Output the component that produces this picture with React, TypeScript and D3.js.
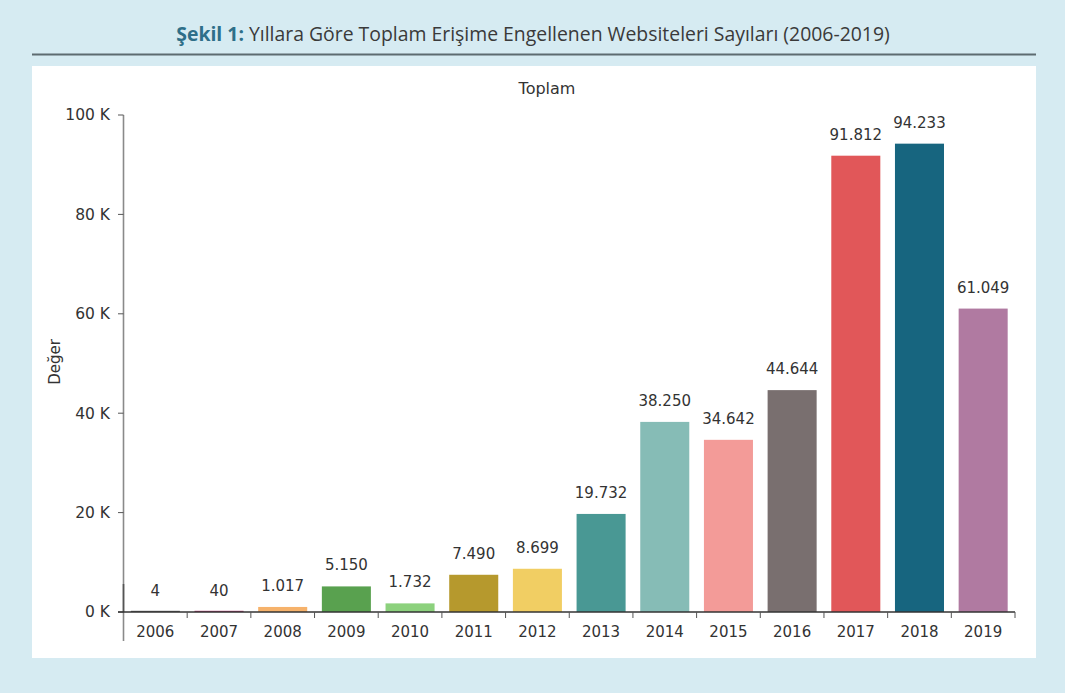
import React from 'react';
import * as d3 from 'd3';

const years = ['2006', '2007', '2008', '2009', '2010', '2011', '2012', '2013', '2014', '2015', '2016', '2017', '2018', '2019'];
const totals = [4, 40, 1017, 5150, 1732, 7490, 8699, 19732, 38250, 34642, 44644, 91812, 94233, 61049];
const barColors = [
  '#5b5b5b', '#b2336f', '#f6b26b', '#59a14f', '#8cd17d', '#b6992d', '#f1ce63', '#499894',
  '#86bcb6', '#f39b98', '#796f6f', '#e15759', '#17657f', '#b07aa1'
];
const yTicks = [0, 20000, 40000, 60000, 80000, 100000];

const W = 1065;
const H = 693;
const font = '"DejaVu Sans", sans-serif';
const textColor = '#333';

const fmtValue = (v: number) => d3.format(',')(v).replace(/,/g, '.');
const fmtTick = (v: number) => `${v / 1000} K`;

export default function App() {
  const left = 123.5;
  const right = 1015;
  const top = 115;
  const bottom = 612;

  const x = d3.scaleBand<string>().domain(years).range([left, right]).paddingInner(0.23).paddingOuter(0.115);
  const y = d3.scaleLinear().domain([0, 100000]).range([bottom, top]);
  const step = x.step();
  const half = (step * x.paddingInner()) / 2;

  return (
    <svg width={W} height={H} style={{ position: 'absolute', left: 0, top: 0, display: 'block' }}>
      <rect x={0} y={0} width={W} height={H} fill="#d6ebf2" />

      {/* caption */}
      <text x={533} y={41} textAnchor="middle" fontFamily='"Open Sans", sans-serif' fontSize={19.4} fill="#3a3a3a">
        <tspan fill="#2e6f89" fontWeight={700}>Şekil 1:</tspan>
        <tspan> Yıllara Göre Toplam Erişime Engellenen Websiteleri Sayıları (2006-2019)</tspan>
      </text>
      <line x1={32} x2={1036} y1={54.5} y2={54.5} stroke="#5d6b70" strokeWidth={2} />

      <rect x={32} y={66} width={1004} height={592} fill="#ffffff" />

      <text x={547} y={94} textAnchor="middle" fontFamily={font} fontSize={16} fill={textColor}>Toplam</text>

      {/* y axis */}
      <line x1={left} x2={left} y1={top} y2={641} stroke="#8a8a8a" strokeWidth={1.6} />
      <line x1={left} x2={left} y1={584} y2={bottom} stroke="#555" strokeWidth={1.6} />
      {yTicks.map((t) => (
        <g key={t}>
          <line x1={left - 5.5} x2={left} y1={y(t)} y2={y(t)} stroke="#555" strokeWidth={1} />
          <text x={110} y={y(t)} dy="0.35em" textAnchor="end" fontFamily={font} fontSize={15.5} fill={textColor}>
            {fmtTick(t)}
          </text>
        </g>
      ))}
      <text
        transform={`translate(59.5,362) rotate(-90)`}
        textAnchor="middle"
        fontFamily={font}
        fontSize={15}
        fill={textColor}
      >
        Değer
      </text>

      {/* bars */}
      {years.map((yr, i) => {
        const v = totals[i];
        const yTop = y(v);
        const h = Math.max(bottom - yTop, 1.2);
        return (
          <g key={yr}>
            <rect x={x(yr)} y={bottom - h} width={x.bandwidth()} height={h} fill={barColors[i]} />
            <text
              x={(x(yr) as number) + x.bandwidth() / 2}
              y={yTop - 16}
              textAnchor="middle"
              fontFamily={font}
              fontSize={15}
              fill={textColor}
            >
              {fmtValue(v)}
            </text>
          </g>
        );
      })}

      {/* x axis */}
      <line x1={left - 5.5} x2={right} y1={bottom} y2={bottom} stroke="#333" strokeWidth={1.4} />
      {years.map((yr, i) => (
        <g key={`t-${yr}`}>
          {i > 0 && (
            <line
              x1={(x(yr) as number) - half}
              x2={(x(yr) as number) - half}
              y1={bottom}
              y2={bottom + 6}
              stroke="#555"
              strokeWidth={1}
            />
          )}
          <text
            x={(x(yr) as number) + x.bandwidth() / 2}
            y={637}
            textAnchor="middle"
            fontFamily={font}
            fontSize={15}
            fill={textColor}
          >
            {yr}
          </text>
        </g>
      ))}
      <line x1={right} x2={right} y1={bottom} y2={bottom + 6} stroke="#555" strokeWidth={1} />
    </svg>
  );
}
